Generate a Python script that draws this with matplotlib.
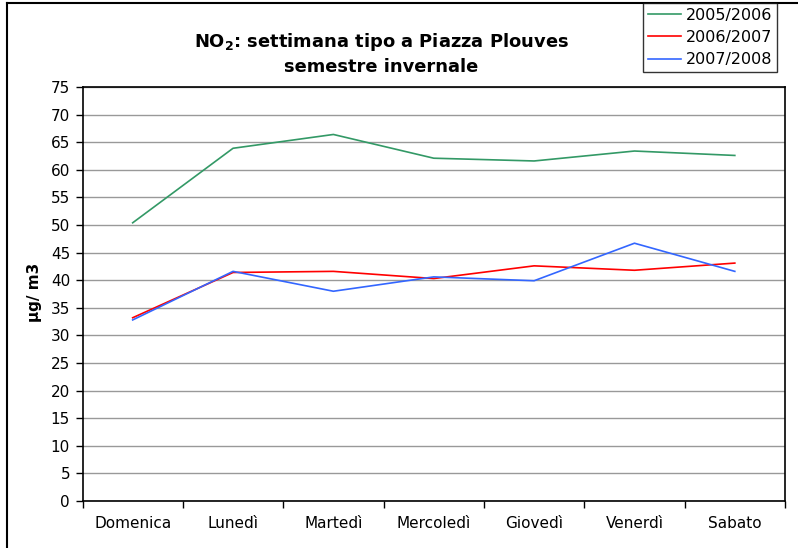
import matplotlib
matplotlib.use("Agg")
import matplotlib.pyplot as plt
from matplotlib.lines import Line2D
import numpy as np

days = ["Domenica", "Lunedì", "Martedì", "Mercoledì", "Giovedì", "Venerdì", "Sabato"]
s2005 = [50.4, 63.9, 66.4, 62.1, 61.6, 63.4, 62.6]
s2006 = [33.2, 41.4, 41.6, 40.3, 42.6, 41.8, 43.1]
s2007 = [32.8, 41.6, 38.0, 40.6, 39.9, 46.7, 41.6]
labels = ["2005/2006", "2006/2007", "2007/2008"]
colors = ["#339966", "#FF0000", "#3366FF"]
yticks = list(range(0, 80, 5))

plt.rcParams['font.family'] = ['DejaVu Sans']
fig = plt.figure(figsize=(7.98, 5.48), dpi=100)
ax = fig.add_axes([82.5/798, 1 - 501/548, (785 - 82.5)/798, (501 - 87)/548])

x = np.arange(len(days))
for data, lab, col in zip([s2005, s2006, s2007], labels, colors):
    ax.plot(x, data, color=col, lw=1.2, label=lab)

ax.set_xlim(-0.5, len(days) - 0.5)
ax.set_ylim(0, 75)
ax.set_yticks(yticks)
ax.set_yticklabels([str(v) for v in yticks], fontsize=11)
ax.set_xticks(x)
ax.set_xticklabels(days, fontsize=11)
ax.tick_params(axis='x', which='major', length=0, pad=11)
ax.set_xticks(np.arange(-0.5, len(days)), minor=True)
ax.tick_params(axis='x', which='minor', length=5, width=1, color='black', direction='out')
ax.tick_params(axis='y', length=5, width=1, direction='out', pad=4)
ax.grid(axis='y', color='#999999', lw=1)
ax.set_axisbelow(True)
for sp in ax.spines.values():
    sp.set_color('black')
    sp.set_linewidth(1.2)

fig.text(35/798, 1 - 292/548, "µg/ m3", rotation=90, fontsize=11, fontweight='bold', ha='center', va='center')

fig.text(381/798, 1 - 42/548, r"NO$_\mathbf{2}$: settimana tipo a Piazza Plouves", fontsize=12.9, fontweight='bold', ha='center', va='center')
fig.text(381/798, 1 - 67/548, "semestre invernale", fontsize=12.9, fontweight='bold', ha='center', va='center')

leg = fig.legend(loc='upper left', bbox_to_anchor=(643/798, 1 - 3/548), fontsize=11.5,
                 frameon=True, fancybox=False, edgecolor='black', borderpad=0.3,
                 handlelength=2.1, handletextpad=0.3, labelspacing=0.45, borderaxespad=0)
leg.get_frame().set_linewidth(1.0)

fig.add_artist(Line2D([6.5/798, 6.5/798], [0, 1 - 3/548], color='black', lw=1.5, transform=fig.transFigure))
fig.add_artist(Line2D([6.5/798, 1], [1 - 3/548, 1 - 3/548], color='black', lw=1.5, transform=fig.transFigure))

fig.savefig("out.png", dpi=100)
